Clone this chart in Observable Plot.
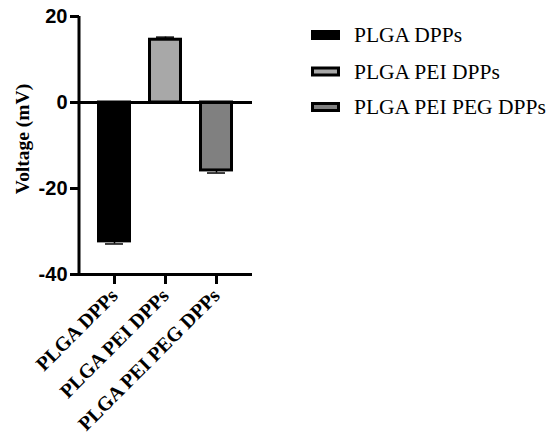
<!DOCTYPE html>
<html>
<head>
<meta charset="utf-8">
<script src="https://cdn.jsdelivr.net/npm/d3@7"></script>
<script src="https://cdn.jsdelivr.net/npm/@observablehq/plot@0.6"></script>
<style>
  html, body { margin: 0; padding: 0; background: #fff; }
  #chart { width: 551px; height: 436px; }
</style>
</head>
<body>
<div id="chart"></div>
<script>
const categories = ["PLGA DPPs", "PLGA PEI DPPs", "PLGA PEI PEG DPPs"];
const means = [-32.3, 14.6, -15.8];
const errors = [0.6, 0.6, 0.6];
const colors = ["#000000", "#a8a8a8", "#808080"];
const yTicks = [-40, -20, 0, 20];
const yLabel = "Voltage (mV)";

const data = categories.map((c, i) => ({cat: c, mean: means[i], err: errors[i]}));
const capValue = d => d.mean + Math.sign(d.mean) * d.err;

const plot = Plot.plot({
  width: 551,
  height: 436,
  marginLeft: 79,
  marginRight: 299,
  marginTop: 16,
  marginBottom: 162,
  style: {background: "#fff", color: "#000", overflow: "visible"},
  x: {type: "band", domain: categories, padding: 0.33},
  y: {domain: [-40, 20]},
  color: {domain: categories, range: colors},
  marks: [
    Plot.ruleX(data, {x: "cat", y1: "mean", y2: capValue, strokeWidth: 1.5}),
    Plot.tickY(data, {x: "cat", y: capValue, insetLeft: 8, insetRight: 8, strokeWidth: 1.5}),
    Plot.barY(data, {x: "cat", y: "mean", fill: "cat", stroke: "#000", strokeWidth: 3, insetLeft: 1.5, insetRight: 1.5}),
    Plot.ruleY([0], {strokeWidth: 3}),
    Plot.ruleY([-40], {strokeWidth: 3}),
    Plot.axisY({ticks: yTicks, tickFormat: d => String(d), tickSize: 9, tickPadding: 3, strokeWidth: 3,
      fontSize: 20, fontWeight: "bold", fontFamily: "Liberation Sans", label: null}),
    Plot.axisX({tickSize: 10, tickPadding: 8, strokeWidth: 3, tickRotate: -45,
      fontSize: 20, fontWeight: "bold", fontFamily: "Liberation Serif", label: null})
  ]
});

const svg = d3.select(plot);
const ys = plot.scale("y");
svg.append("line")
  .attr("x1", 79).attr("x2", 79)
  .attr("y1", ys.range[0] + 1.5).attr("y2", ys.range[1])
  .attr("stroke", "#000").attr("stroke-width", 3);

svg.append("text")
  .attr("transform", "translate(29,139) rotate(-90)")
  .attr("text-anchor", "middle")
  .attr("font-family", "Liberation Serif")
  .attr("font-weight", "bold")
  .attr("font-size", 19.5)
  .attr("fill", "#000")
  .text(yLabel);

const legendY = [35, 71.5, 107];
const lg = svg.append("g").attr("text-anchor", "start");
categories.forEach((c, i) => {
  lg.append("rect")
    .attr("x", 312.5).attr("y", legendY[i] - 3.5)
    .attr("width", 26).attr("height", 7)
    .attr("fill", colors[i]).attr("stroke", "#000").attr("stroke-width", 3);
  lg.append("text")
    .attr("x", 354).attr("y", legendY[i] + 7)
    .attr("text-anchor", "start")
    .attr("font-family", "Liberation Serif")
    .attr("font-size", 21.5)
    .attr("fill", "#000")
    .text(c);
});

document.getElementById("chart").appendChild(plot);
</script>
</body>
</html>
